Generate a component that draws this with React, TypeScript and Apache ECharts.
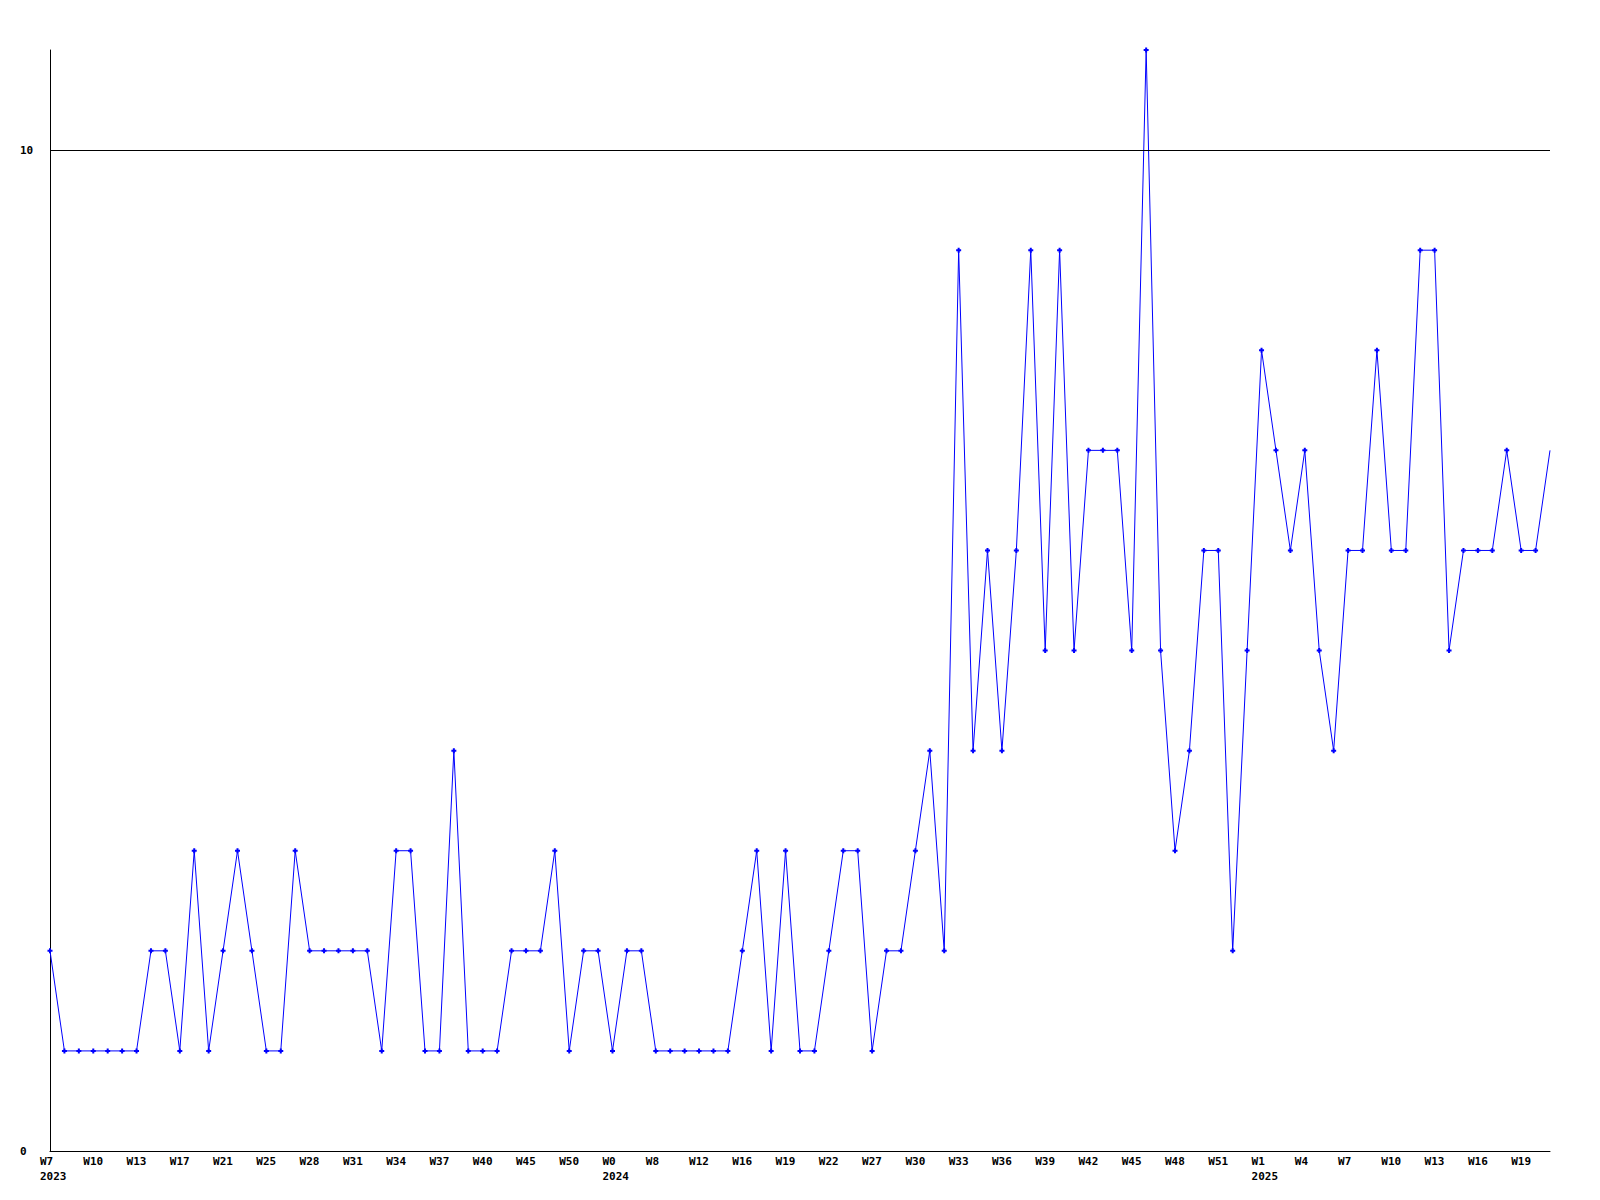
import React, { useEffect, useRef } from "react";
import * as echarts from "echarts";

const tickLabels = [
  "W7\n2023", "W10", "W13", "W17", "W21", "W25", "W28", "W31", "W34", "W37", "W40", "W45",
  "W50", "W0\n2024", "W8", "W12", "W16", "W19", "W22", "W27", "W30", "W33", "W36", "W39",
  "W42", "W45", "W48", "W51", "W1\n2025", "W4", "W7", "W10", "W13", "W16", "W19",
];

const values = [
  2, 1, 1, 1, 1, 1, 1, 2, 2, 1,
  3, 1, 2, 3, 2, 1, 1, 3, 2, 2,
  2, 2, 2, 1, 3, 3, 1, 1, 4, 1,
  1, 1, 2, 2, 2, 3, 1, 2, 2, 1,
  2, 2, 1, 1, 1, 1, 1, 1, 2, 3,
  1, 3, 1, 1, 2, 3, 3, 1, 2, 2,
  3, 4, 2, 9, 4, 6, 4, 6, 9, 5,
  9, 5, 7, 7, 7, 5, 11, 5, 3, 4,
  6, 6, 2, 5, 8, 7, 6, 7, 5, 4,
  6, 6, 8, 6, 6, 9, 9, 5, 6, 6,
  6, 7, 6, 6, 7,
];

const yTickLabels = [0, 10];
const gridValue = 10;
const yMax = 11;
const labelStep = 3;

const categories = values.map((_, i) =>
  i % labelStep === 0 ? tickLabels[i / labelStep] ?? "" : ""
);

export default function App() {
  const ref = useRef<HTMLDivElement>(null);
  useEffect(() => {
    if (!ref.current) return;
    const chart = echarts.init(ref.current, undefined, { renderer: "svg" });
    const font = {
      fontFamily: "DejaVu Sans Mono",
      fontWeight: "bold" as const,
      fontSize: 11,
      color: "#000",
    };
    chart.setOption({
      animation: false,
      backgroundColor: "#fff",
      grid: { left: 50, right: 50, top: 50, bottom: 49, containLabel: false },
      xAxis: {
        type: "category",
        data: categories,
        boundaryGap: false,
        axisLine: { show: true, lineStyle: { color: "#000", width: 1 } },
        axisTick: { show: false },
        splitLine: { show: false },
        axisLabel: {
          ...font,
          interval: labelStep - 1,
          align: "left",
          padding: [0, 0, 0, -10],
          lineHeight: 15,
          margin: 3,
        },
      },
      yAxis: {
        type: "value",
        min: 0,
        max: yMax,
        interval: 10,
        axisLine: { show: true, lineStyle: { color: "#000", width: 1 } },
        axisTick: { show: false },
        splitLine: { show: false },
        axisLabel: {
          ...font,
          align: "left",
          margin: 30,
          formatter: (v: number) => (yTickLabels.includes(v) ? String(v) : ""),
        },
      },
      series: [
        {
          type: "line",
          data: values.map((v, i) =>
            i === values.length - 1 ? { value: v, symbol: "none" } : v
          ),
          symbol: "path://M1.5 0H3.5V1.5H5V3.5H3.5V5H1.5V3.5H0V1.5H1.5Z",
          symbolSize: 5,
          showAllSymbol: true,
          lineStyle: { color: "#0000ff", width: 1 },
          itemStyle: { color: "#0000ff" },
          markLine: {
            silent: true,
            symbol: "none",
            label: { show: false },
            lineStyle: { color: "#000", width: 1, type: "solid" },
            data: [{ yAxis: gridValue }],
          },
        },
      ],
    });
    return () => chart.dispose();
  }, []);
  return (
    <div
      ref={ref}
      style={{ position: "absolute", left: 0, top: 0, width: 1600, height: 1200 }}
    />
  );
}
